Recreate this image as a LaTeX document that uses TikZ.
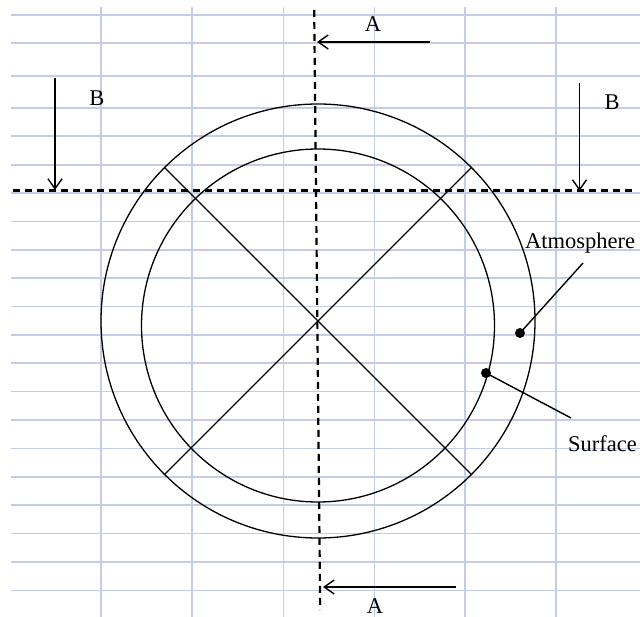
\documentclass[tikz,border=0pt]{standalone}
\usepackage{fontspec}
\setmainfont{Liberation Serif}
\usetikzlibrary{arrows.meta}
\definecolor{gridc}{RGB}{196,205,229}
\begin{document}
\begin{tikzpicture}[x=1pt,y=-1pt,
  gridline/.style={draw=gridc,line width=1.6pt},
  outline/.style={draw=black,line width=1.3pt},
  cutline/.style={draw=black,line width=2.2pt,dash pattern=on 7pt off 5pt},
  viewarrow/.style={draw=black,line width=1.4pt,-{Straight Barb[length=10pt,width=14pt]}},
  lbl/.style={font=\fontsize{22.5}{27}\selectfont,inner sep=0pt,anchor=base},
  pointer/.style={draw=black,line width=1.4pt},
  dotc/.style={circle,fill=black,inner sep=0pt,minimum size=10pt}
]
\useasboundingbox (0,0) rectangle (640,617);
% ruled paper grid
\foreach \y in {15,43,76,108,136,165,193,221.5,250,278.3,306.7,335,363.3,391.7,420,448.4,476.8,505,533.5,562,590.3}
  \draw[gridline] (11,\y) -- (640,\y);
\foreach \x in {100.7,191.7,283.3,374.3,465,556}
  \draw[gridline] (\x,7) -- (\x,617);
% circles
\coordinate (C) at (318,321);
\coordinate (Ci) at (318,325.5);
\draw[outline] (C) circle[radius=217pt];
\draw[outline] (Ci) circle[radius=176.5pt];
\draw[outline] ([shift={(135:217pt)}]C) -- ([shift={(-45:217pt)}]C);
\draw[outline] ([shift={(45:217pt)}]C) -- ([shift={(-135:217pt)}]C);
% section lines
\coordinate (vtop) at (314.2,10);
\coordinate (vbot) at (320.2,610);
\coordinate (hl) at (13,190.5);
\coordinate (hr) at (636,190.5);
\draw[cutline] (vtop) -- (vbot);
\draw[cutline] (hl) -- (hr);
% view arrows
\coordinate (a1s) at (430,42);
\coordinate (a1e) at (317,42);
\coordinate (a2s) at (456,587);
\coordinate (a2e) at (323,587);
\coordinate (b1s) at (55,78);
\coordinate (b1e) at (55,190);
\coordinate (b2s) at (579.5,83);
\coordinate (b2e) at (579.5,191);
\draw[viewarrow] (a1s) -- (a1e);
\draw[viewarrow] (a2s) -- (a2e);
\draw[viewarrow] (b1s) -- (b1e);
\draw[viewarrow] (b2s) -- (b2e);
\node[lbl] (la1) at (373,32) {A};
\node[lbl] (la2) at (375,613) {A};
\node[lbl] (lb1) at (97,106) {B};
\node[lbl] (lb2) at (612,110) {B};
% callouts
\node[dotc] (datm) at (520,333) {};
\node[dotc] (dsur) at (486,373) {};
\coordinate (patm) at (583,263);
\coordinate (psur) at (571,418);
\draw[pointer] (datm.center) -- (patm);
\draw[pointer] (dsur.center) -- (psur);
\node[lbl] (latm) at (580,248.5) {Atmosphere};
\node[lbl] (lsur) at (602.5,451.5) {Surface};
\end{tikzpicture}
\end{document}
